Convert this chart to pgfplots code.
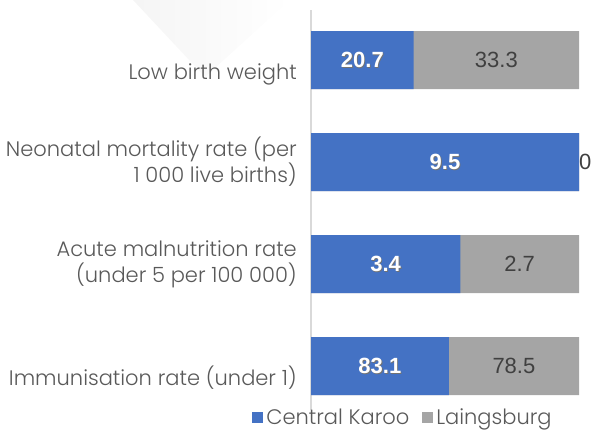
\documentclass[border=0pt]{standalone}
\usepackage{pgfplots}
\usepackage{pgfplotstable}
\pgfplotsset{compat=1.18}
\usepackage{fontspec}
\setmainfont{Poppins}[UprightFont=*-Light]
\newfontfamily\numfont{Liberation Sans}
\definecolor{ckblue}{HTML}{4472C4}
\definecolor{lbgray}{HTML}{A5A5A5}
\definecolor{txtgray}{HTML}{595959}
\definecolor{numgray}{HTML}{404040}
\definecolor{axgray}{HTML}{D9D9D9}

\pgfplotstableread{
idx ck lb
0 20.7 33.3
1 9.5 0
2 3.4 2.7
3 83.1 78.5
}\datatable
\pgfplotstablecreatecol[expr={100*\thisrow{ck}/(\thisrow{ck}+\thisrow{lb})}]{p}\datatable
\pgfplotstablecreatecol[expr={50*\thisrow{ck}/(\thisrow{ck}+\thisrow{lb})}]{pmid}\datatable
\pgfplotstablecreatecol[expr={ifthenelse(\thisrow{lb}>0, 50+50*\thisrow{ck}/(\thisrow{ck}+\thisrow{lb}), 102.3)}]{qmid}\datatable

\begin{document}
\begin{tikzpicture}
\useasboundingbox (0,0) rectangle (592bp,432bp);
\shade[shading=axis, shading angle=320, left color=black!4, right color=white]
  (133bp,432bp) -- (290bp,432bp) -- (205bp,355bp) -- cycle;
\begin{axis}[
  at={(311bp,22bp)}, anchor=south west,
  scale only axis, width=268bp, height=400bp,
  xmin=0, xmax=100, ymin=-0.49, ymax=3.43, y dir=reverse,
  axis x line=none,
  axis y line*=left,
  y axis line style={axgray, line width=1.2bp},
  ytick={0,1,2,3},
  yticklabels={\raisebox{-14bp}[14bp][4bp]{Low birth weight},
    {Neonatal mortality rate (per\\1 000 live births)},
    {Acute malnutrition rate\\(under 5 per 100 000)},
    \raisebox{-14bp}[14bp][4bp]{Immunisation rate (under 1)}},
  yticklabel style={align=right, text=txtgray, inner sep=0pt, xshift=-14bp,
    font=\fontsize{21bp}{26bp}\selectfont},
  major tick length=0pt,
  bar width=58bp,
  clip=false,
  legend columns=2,
  legend style={draw=none, fill=none, at={(axis description cs:0.345,-0.019)}, anchor=center,
    font=\fontsize{21bp}{24bp}\selectfont, text=txtgray, inner sep=0pt,
    /tikz/every even column/.append style={column sep=10bp},
    nodes={inner xsep=3bp}},
  legend image code/.code={\fill[#1] (0bp,-5.5bp) rectangle (11bp,5.5bp);},
]
\addplot[xbar, fill=lbgray, draw=none, forget plot] table[x expr=100, y=idx] {\datatable};
\addplot[xbar, fill=ckblue, draw=none] table[x=p, y=idx] {\datatable};
\addlegendentry{Central Karoo}
\addlegendimage{fill=lbgray, draw=none}
\addlegendentry{Laingsburg}
% blue labels with shadow
\addplot[draw=none, only marks, mark=none, forget plot, point meta=explicit symbolic,
  nodes near coords, nodes near coords style={anchor=center, text=black!55, xshift=0.8bp, yshift=-0.8bp,
    font=\numfont\bfseries\fontsize{22bp}{24bp}\selectfont}]
  table[x=pmid, y=idx, meta=ck] {\datatable};
\addplot[draw=none, only marks, mark=none, forget plot, point meta=explicit symbolic,
  nodes near coords, nodes near coords style={anchor=center, text=white,
    font=\numfont\bfseries\fontsize{22bp}{24bp}\selectfont}]
  table[x=pmid, y=idx, meta=ck] {\datatable};
% gray labels
\addplot[draw=none, only marks, mark=none, forget plot, point meta=explicit symbolic,
  nodes near coords, nodes near coords style={anchor=center, text=numgray,
    font=\numfont\fontsize{22bp}{24bp}\selectfont}]
  table[x=qmid, y=idx, meta=lb] {\datatable};
\end{axis}
\end{tikzpicture}
\end{document}
